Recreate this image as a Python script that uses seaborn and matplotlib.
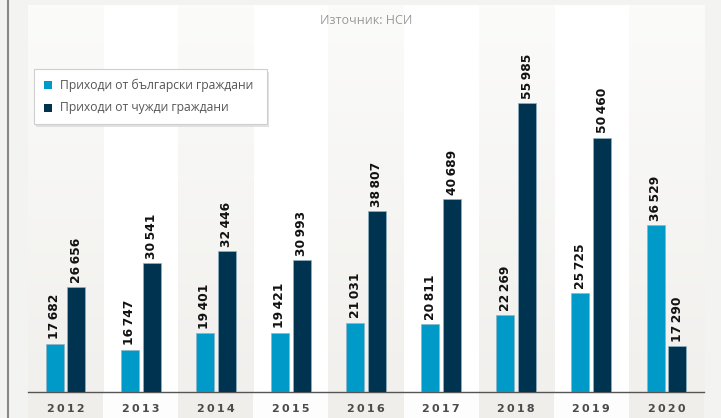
import pandas as pd
import numpy as np
import matplotlib.pyplot as plt
import seaborn as sns
from matplotlib.patches import Rectangle
from matplotlib.colors import LinearSegmentedColormap

# Data (tourism receipts, source NSI)
years = ["2012", "2013", "2014", "2015", "2016", "2017", "2018", "2019", "2020"]
bulgarian = [17682, 16747, 19401, 19421, 21031, 20811, 22269, 25725, 36529]
foreign = [26656, 30541, 32446, 30993, 38807, 40689, 55985, 50460, 17290]
series_names = ["Приходи от български граждани", "Приходи от чужди граждани"]
colors = ["#009ac8", "#00334f"]

df = pd.DataFrame({
    "year": years * 2,
    "value": bulgarian + foreign,
    "series": [series_names[0]] * len(years) + [series_names[1]] * len(years),
})

sns.set_style("white")
plt.rcParams["font.family"] = ["DejaVu Sans"]

fig = plt.figure(figsize=(7.21, 4.18), dpi=100)
fig.patch.set_facecolor("#f3f3f1")
ax = fig.add_axes([28 / 721, 26 / 418, 676 / 721, 387 / 418])
ax.set_facecolor("white")

ymin, ymax = 10000, 71600

# alternating column shading, gray columns fade towards the top
fade = LinearSegmentedColormap.from_list("fade", ["#fbfbfa", "#f1f0ed"])
grad = np.linspace(0, 1, 100).reshape(-1, 1)
for i in range(len(years)):
    if i % 2 == 0:
        ax.imshow(grad, extent=(i - 0.5, i + 0.5, ymin, ymax), origin="upper",
                  cmap=fade, aspect="auto", zorder=0)
    fc = "#efeeeb" if i % 2 == 0 else "#fdfdfd"
    ax.axvspan(i - 0.5, i + 0.5, ymin=-0.07, ymax=0, color=fc, zorder=0, clip_on=False, lw=0)

sns.barplot(data=df, x="year", y="value", hue="series", palette=colors,
            width=0.58, gap=0.17, ax=ax, zorder=3, saturation=1, legend=False,
            edgecolor="#8fb3c4", linewidth=0.5)

ax.set_ylim(ymin, ymax)
ax.set_xlim(-0.5, len(years) - 0.5)

# value labels
for cont in ax.containers:
    for bar in cont:
        h = bar.get_height()
        ax.text(bar.get_x() + bar.get_width() / 2, h + 700, f"{int(h):,}".replace(",", "\u202f"),
                rotation=90, ha="center", va="bottom", fontsize=8.8, fontweight="bold",
                color="#111111", zorder=4)

for s in ["top", "right", "left"]:
    ax.spines[s].set_visible(False)
ax.spines["bottom"].set_color("#555555")
ax.spines["bottom"].set_linewidth(1)
ax.set_yticks([])
ax.set_xticks(range(len(years)))
ax.set_xticklabels(["\u2009".join(y) for y in years], fontsize=8, fontweight="bold", color="#4a4a4a")
ax.tick_params(axis="x", length=0, pad=9)
ax.set_xticks([i - 0.5 for i in range(len(years) + 1)], minor=True)
ax.tick_params(axis="x", which="minor", length=4, color="#555555", direction="out")
ax.set_xlabel("")
ax.set_ylabel("")

# left border line
fig.add_artist(plt.Line2D([8 / 721, 8 / 721], [0, 1], color="#888888", lw=1.5))

fig.text(366 / 721, 1 - 20 / 418, "Източник: НСИ", ha="center", va="center",
         fontsize=9, color="#9a9a9a", family="Open Sans")

# legend box
shadow = Rectangle((36 / 721, 1 - 127 / 418), 233 / 721, 55 / 418, transform=fig.transFigure,
                   facecolor="#d0d0d0", edgecolor="none", alpha=0.6, zorder=5)
box = Rectangle((34 / 721, 1 - 124 / 418), 233 / 721, 55 / 418, transform=fig.transFigure,
                facecolor="white", edgecolor="#cfcfcf", lw=0.8, zorder=6)
fig.add_artist(shadow)
fig.add_artist(box)
for k, (name, c) in enumerate(zip(series_names, colors)):
    y = 1 - (85 + k * 23) / 418
    fig.add_artist(Rectangle((44 / 721, y - 4 / 418), 8 / 721, 8 / 418, transform=fig.transFigure,
                             facecolor=c, edgecolor="none", zorder=7))
    fig.text(60 / 721, y, name, ha="left", va="center", fontsize=8.7, color="#555555",
             family="Open Sans", zorder=7)

fig.savefig("out.png", dpi=100, facecolor=fig.get_facecolor())
